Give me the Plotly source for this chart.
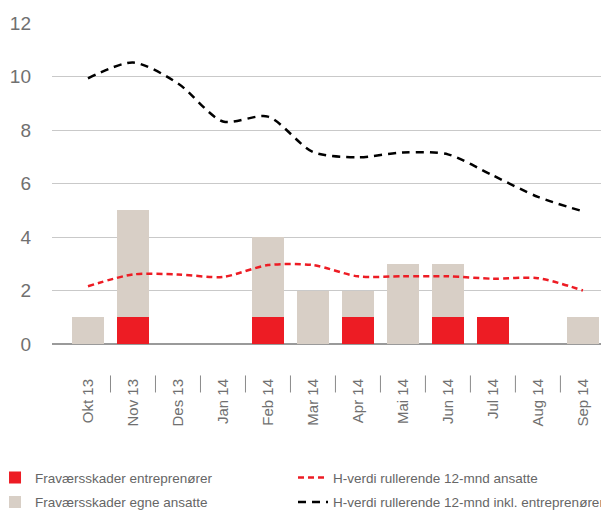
import plotly.graph_objects as go

months = ["Okt 13", "Nov 13", "Des 13", "Jan 14", "Feb 14", "Mar 14",
          "Apr 14", "Mai 14", "Jun 14", "Jul 14", "Aug 14", "Sep 14"]
entreprenorer = [0, 1, 0, 0, 1, 0, 1, 0, 1, 1, 0, 0]
egne_ansatte = [1, 4, 0, 0, 3, 2, 1, 3, 2, 0, 0, 1]
h_ansatte = [2.16, 2.6, 2.6, 2.51, 2.95, 2.95, 2.53, 2.53, 2.53, 2.44, 2.46, 2.0]
h_inkl = [9.93, 10.52, 9.74, 8.32, 8.5, 7.18, 6.98, 7.16, 7.09, 6.3, 5.5, 4.96]
y_ticks = [0, 2, 4, 6, 8, 10, 12]

FONT = "Liberation Sans, Arial, sans-serif"
GRAY = "#707070"

xs = list(range(len(months)))

fig = go.Figure()
fig.add_trace(go.Bar(x=xs, y=entreprenorer, name="Fraværsskader entreprenører",
                     marker=dict(color="#ed1c24", line_width=0),
                     legend="legend", legendgroup="a"))
fig.add_trace(go.Bar(x=xs, y=egne_ansatte, name="Fraværsskader egne ansatte",
                     marker=dict(color="#d8cfc6", line_width=0),
                     legend="legend", legendgroup="b"))
fig.add_trace(go.Scatter(x=xs, y=h_ansatte, mode="lines",
                         name="H-verdi rullerende 12-mnd ansatte",
                         line=dict(color="#ed1c24", width=2.5, dash="6px,4px",
                                   shape="spline", smoothing=0.8),
                         legend="legend2", legendgroup="c"))
fig.add_trace(go.Scatter(x=xs, y=h_inkl, mode="lines",
                         name="H-verdi rullerende 12-mnd inkl. entreprenører",
                         line=dict(color="#000000", width=2.5, dash="8px,6px",
                                   shape="spline", smoothing=0.8),
                         legend="legend2", legendgroup="d"))

# separators between category labels
for i in range(len(months) - 1):
    fig.add_shape(type="line", xref="x", yref="paper",
                  x0=i + 0.5, x1=i + 0.5, y0=-0.098, y1=-0.151,
                  line=dict(color="#8a8a8a", width=1))

legend_common = dict(orientation="v", yanchor="top", y=-0.368, xanchor="left",
                     traceorder="grouped", tracegroupgap=4, itemwidth=30,
                     font=dict(size=13.5, color="#666666"),
                     bgcolor="rgba(0,0,0,0)")

fig.update_layout(
    width=601, height=502,
    margin=dict(l=44, r=0, t=15, b=166, autoexpand=False),
    barmode="stack", bargap=0.29,
    plot_bgcolor="white", paper_bgcolor="white",
    font=dict(family=FONT, color=GRAY, size=13),
    showlegend=True,
    legend=dict(x=-0.1023, **legend_common),
    legend2=dict(x=0.4327, **legend_common),
    xaxis=dict(range=[-0.8, 11.58], tickmode="array", tickvals=xs, ticktext=months,
               tickangle=-90, ticks="outside", ticklen=28, tickcolor="rgba(0,0,0,0)",
               showgrid=False, zeroline=False, showline=False, automargin=False,
               tickfont=dict(size=15, color=GRAY)),
    yaxis=dict(range=[0, 12], tickvals=y_ticks, showgrid=True, gridcolor="#c9c9c9",
               gridwidth=1, zeroline=True, zerolinecolor="#9a9a9a", zerolinewidth=1.5,
               showline=False, ticks="", ticklabelstandoff=20, automargin=False,
               tickfont=dict(size=19, color=GRAY)),
)

fig.write_html("out.html")
